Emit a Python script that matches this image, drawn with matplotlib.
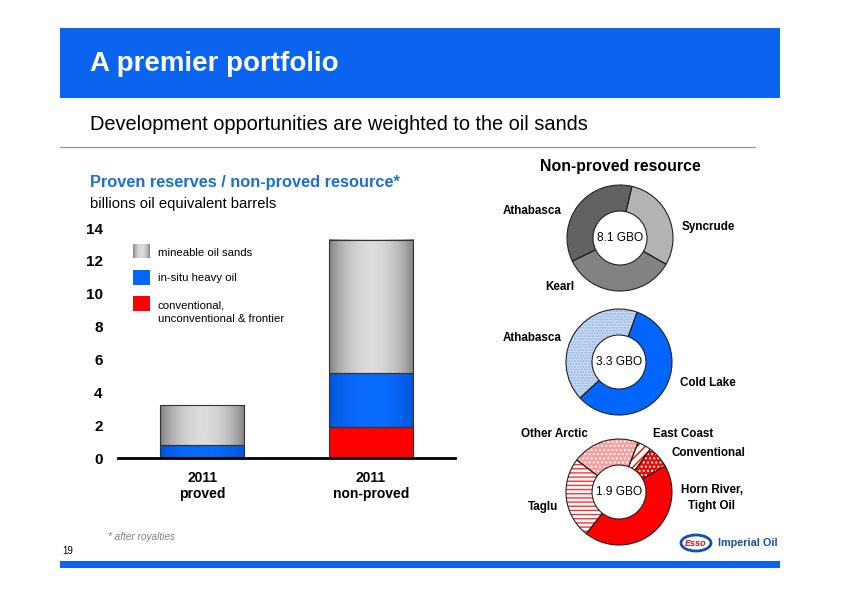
import numpy as np
import matplotlib.pyplot as plt
from matplotlib.patches import Rectangle, Ellipse
from matplotlib.colors import LinearSegmentedColormap

plt.rcParams['font.family'] = ['Liberation Sans', 'DejaVu Sans']

# bar chart data (billions oil equivalent barrels)
categories = ['2011\nproved', '2011\nnon-proved']
conventional = [0.05, 1.9]
insitu = [0.75, 3.3]
mineable = [2.4, 8.1]

# donut data (GBO)
mine_names = ['Syncrude', 'Kearl', 'Athabasca']
mine_vals = [2.4, 2.8, 2.9]
insitu_names = ['Cold Lake', 'Athabasca']
insitu_vals = [1.9, 1.4]
conv_names = ['East Coast', 'Conventional', 'Horn River,\nTight Oil', 'Taglu', 'Other Arctic']
conv_vals = [0.08, 0.13, 0.83, 0.47, 0.39]

W, H = 842, 595
BLUE = '#0a64ef'
fig = plt.figure(figsize=(8.42, 5.95), dpi=100)


def box(x0, y0, x1, y1):
    # pixel box (top-left origin) -> figure rect
    return [x0 / W, 1 - y1 / H, (x1 - x0) / W, (y1 - y0) / H]


gray_cmap = LinearSegmentedColormap.from_list('g', ['#7a7a7a', '#dcdcdc'])
blue_cmap = LinearSegmentedColormap.from_list('b', ['#0052d6', '#0a6cff'])
shade = np.sin(np.pi * np.linspace(0, 1, 200)) ** 0.7
shade = shade.reshape(1, -1)

# ---- bar chart ----
ax = fig.add_axes(box(118, 228, 455, 458))
x = np.arange(len(categories))
bw = 0.5
bot2 = np.array(conventional) + np.array(insitu)
ax.bar(x, conventional, width=bw, color='#ff0000', edgecolor='#333333', lw=0.8, zorder=3)
b_blue = ax.bar(x, insitu, width=bw, bottom=conventional, facecolor='none',
                edgecolor='#333333', lw=0.8, zorder=3)
b_gray = ax.bar(x, mineable, width=bw, bottom=bot2, facecolor='none',
                edgecolor='#333333', lw=0.8, zorder=3)
for bars, cm in [(b_blue, blue_cmap), (b_gray, gray_cmap)]:
    for r in bars:
        x0, y0 = r.get_x(), r.get_y()
        ax.imshow(shade, extent=[x0, x0 + r.get_width(), y0, y0 + r.get_height()],
                  cmap=cm, aspect='auto', zorder=2)
ax.set_xlim(-0.5, 1.5)
ax.set_ylim(0, 14)
ax.set_yticks(range(0, 15, 2))
ax.set_xticks(x)
ax.set_xticklabels(categories, fontsize=10, fontweight='bold')
ax.set_yticklabels([str(v) for v in range(0, 15, 2)], fontsize=11, fontweight='bold')
ax.tick_params(length=0)
ax.tick_params(axis='y', pad=11)
ax.tick_params(axis='x', pad=9)
for s in ['left', 'right', 'top']:
    ax.spines[s].set_visible(False)
ax.spines['bottom'].set_linewidth(2)
ax.spines['bottom'].set_zorder(5)
ax.patch.set_visible(False)


# ---- donuts ----
def donut(cx, cy, vals, start, colors, hatches, hcolors, center_text):
    a = fig.add_axes(box(cx - 60, cy - 60, cx + 60, cy + 60))
    w, _ = a.pie(vals, radius=53, startangle=start, counterclock=False,
                 colors=colors, hatch=hatches, wedgeprops=dict(width=26, lw=0))
    for wd, hc in zip(w, hcolors):
        wd.set_edgecolor(hc)
        wd.set_linewidth(0)
    a.pie(vals, radius=53, startangle=start, counterclock=False,
          wedgeprops=dict(width=26, fill=False, edgecolor='#222222', lw=0.8))
    a.set_xlim(-60, 60)
    a.set_ylim(-60, 60)
    a.set_aspect('equal')
    a.axis('off')
    a.text(0, 0, center_text, ha='center', va='center', fontsize=8.6)


donut(620, 238, mine_vals, 77, ['#b3b3b3', '#828282', '#626262'],
      [None] * 3, ['none'] * 3, '8.1 GBO')
donut(619, 362, insitu_vals, 70, ['#0066ff', '#cfdff6'],
      [None, '......'], ['none', '#8aaee2'], '3.3 GBO')
donut(619, 492, conv_vals, 69, ['white', '#ff0000', '#ff0000', 'white', '#ff9c9c'],
      ['////', '....', None, '----', '....'],
      ['#ff0000', 'white', 'none', '#ff3030', 'white'], '1.9 GBO')

# ---- overlay in pixel coordinates ----
ov = fig.add_axes([0, 0, 1, 1])
ov.patch.set_visible(False)
ov.add_patch(Rectangle((60, 28), 720, 70, color=BLUE, lw=0))
ov.add_patch(Rectangle((60, 561), 720, 7, color=BLUE, lw=0))
ov.plot([60, 755], [147, 147], color='#8c8c8c', lw=0.8)
ov.text(90, 64, 'A premier portfolio', color='white', fontsize=20,
        fontweight='bold', va='center')
ov.text(90, 125, 'Development opportunities are weighted to the oil sands',
        fontsize=14.4, va='center')
ov.text(90, 182, 'Proven reserves / non-proved resource*', color='#1f6fd1',
        fontsize=11.8, fontweight='bold', va='center')
ov.text(90, 204, 'billions oil equivalent barrels', fontsize=10.6, va='center')

# legend
ov.imshow(shade, extent=[133, 150, 258, 244], cmap=gray_cmap, aspect='auto')
ov.add_patch(Rectangle((133, 270), 17, 15, color='#0066ff', lw=0))
ov.add_patch(Rectangle((133, 296), 17, 15, color='#ff0000', lw=0))
ov.text(158, 253, 'mineable oil sands', fontsize=8.2, va='center')
ov.text(158, 278, 'in-situ heavy oil', fontsize=8.2, va='center')
ov.text(158, 312, 'conventional,\nunconventional & frontier', fontsize=8.2,
        va='center', linespacing=1.45)

# donut labels
ov.text(620, 166, 'Non-proved resource', fontsize=11.4, fontweight='bold',
        ha='center', va='center')
lab = dict(fontsize=8.4, fontweight='bold', ha='center', va='center')
ov.text(532, 211, 'Athabasca', **lab)
ov.text(708, 227, 'Syncrude', **lab)
ov.text(560, 287, 'Kearl', **lab)
ov.text(532, 338, 'Athabasca', **lab)
ov.text(708, 383, 'Cold Lake', **lab)
ov.text(554, 434, 'Other Arctic', **lab)
ov.text(683, 434, 'East Coast', **lab)
ov.text(708, 453, 'Conventional', **lab)
ov.text(712, 498, 'Horn River,\nTight Oil', linespacing=1.35, **lab)
ov.text(543, 507, 'Taglu', **lab)

# footer
ov.text(108, 537, '* after royalties', fontsize=7.2, style='italic',
        color='#808080', va='center')
ov.text(62, 551, '19', fontsize=7, va='center')
ov.add_patch(Ellipse((696, 543), 30, 16, facecolor='white', edgecolor='#1450b4', lw=2))
ov.text(696, 543.5, 'Esso', color='#e01010', fontsize=6.5, fontweight='bold',
        style='italic', ha='center', va='center')
ov.text(718, 543.5, 'Imperial Oil', color='#1450b4', fontsize=7.8, fontweight='bold',
        va='center')

ov.set_xlim(0, W)
ov.set_ylim(H, 0)
ov.axis('off')

fig.savefig('out.png', dpi=100)
